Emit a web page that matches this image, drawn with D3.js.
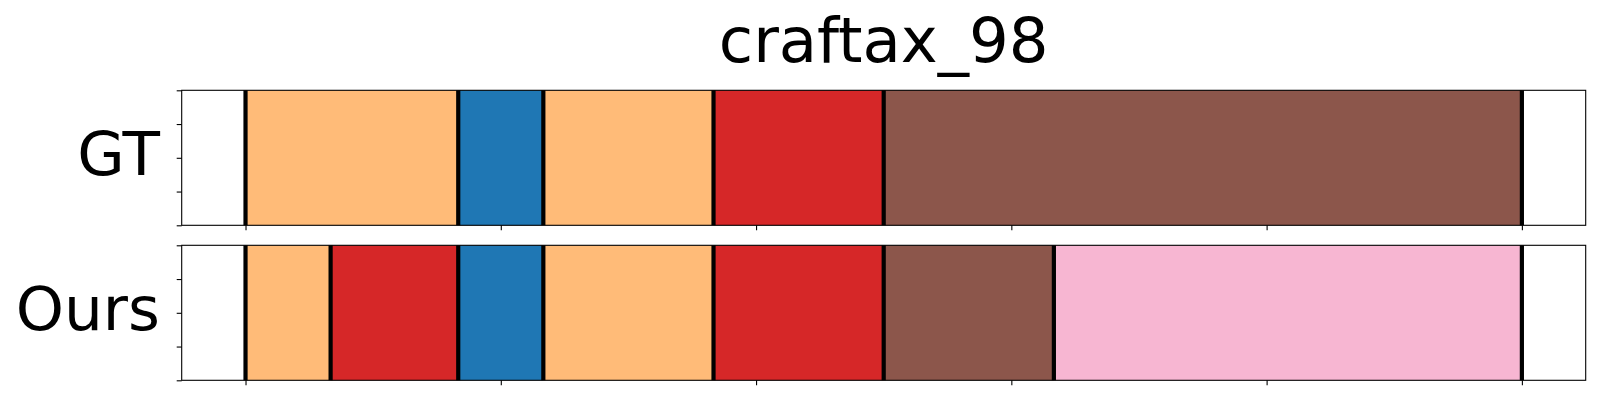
<!DOCTYPE html>
<html>
<head>
<meta charset="utf-8">
<script src="https://cdn.jsdelivr.net/npm/d3@7"></script>
<style>
  html, body { margin: 0; padding: 0; background: #fff; }
  svg { display: block; }
</style>
</head>
<body>
<svg id="chart" width="1600" height="400"></svg>
<script>
const title = "craftax_98";
const rowLabels = ["GT", "Ours"];
const totalFrames = 30;
const xTickValues = [0, 6, 12, 18, 24, 30];
const yTickValues = [0, 0.25, 0.5, 0.75, 1];
const gtSegments = [
  { start: 0, end: 5, action: "orange" },
  { start: 5, end: 7, action: "blue" },
  { start: 7, end: 11, action: "orange" },
  { start: 11, end: 15, action: "red" },
  { start: 15, end: 30, action: "brown" }
];
const oursSegments = [
  { start: 0, end: 2, action: "orange" },
  { start: 2, end: 5, action: "red" },
  { start: 5, end: 7, action: "blue" },
  { start: 7, end: 11, action: "orange" },
  { start: 11, end: 15, action: "red" },
  { start: 15, end: 19, action: "brown" },
  { start: 19, end: 30, action: "pink" }
];
const actionColors = { orange: "#ffbb78", blue: "#1f77b4", red: "#d62728", brown: "#8c564b", pink: "#f7b6d2" };

const svg = d3.select("#chart");
const left = 181.7, right = 1585.7;
const panels = [
  { label: rowLabels[0], segs: gtSegments, top: 90.3, bottom: 225.3 },
  { label: rowLabels[1], segs: oursSegments, top: 245.3, bottom: 380.3 }
];
const pad = totalFrames * 0.05;
const x = d3.scaleLinear().domain([-pad, totalFrames + pad]).range([left, right]);
const font = "'DejaVu Sans', sans-serif";

svg.append("text")
  .attr("x", (left + right) / 2)
  .attr("y", 61.5)
  .attr("text-anchor", "middle")
  .attr("font-family", font)
  .attr("font-size", 62.5)
  .attr("fill", "#000")
  .text(title);

panels.forEach(p => {
  const y = d3.scaleLinear().domain([0, 1]).range([p.bottom, p.top]);
  const g = svg.append("g");
  g.selectAll("rect.seg").data(p.segs).enter().append("rect")
    .attr("class", "seg")
    .attr("x", d => x(d.start))
    .attr("width", d => x(d.end) - x(d.start))
    .attr("y", y(1))
    .attr("height", y(0) - y(1))
    .attr("fill", d => actionColors[d.action]);
  const bounds = Array.from(new Set(p.segs.flatMap(d => [d.start, d.end])));
  g.selectAll("line.bd").data(bounds).enter().append("line")
    .attr("class", "bd")
    .attr("x1", d => x(d)).attr("x2", d => x(d))
    .attr("y1", y(1)).attr("y2", y(0))
    .attr("stroke", "#000").attr("stroke-width", 4.2);
  // frame
  g.append("rect")
    .attr("x", left).attr("y", p.top)
    .attr("width", right - left).attr("height", p.bottom - p.top)
    .attr("fill", "none").attr("stroke", "#000").attr("stroke-width", 1.1);
  const ax = d3.axisBottom(x).tickValues(xTickValues).tickFormat("").tickSize(5);
  const gx = g.append("g").attr("transform", `translate(0,${p.bottom})`).call(ax);
  gx.select(".domain").remove();
  gx.selectAll("line").attr("stroke-width", 1.1);
  const ay = d3.axisLeft(y).tickValues(yTickValues).tickFormat("").tickSize(5);
  const gy = g.append("g").attr("transform", `translate(${left},0)`).call(ay);
  gy.select(".domain").remove();
  gy.selectAll("line").attr("stroke-width", 1.1);
  svg.append("text")
    .attr("x", 160)
    .attr("y", (p.top + p.bottom) / 2 + 16.8)
    .attr("text-anchor", "end")
    .attr("font-family", font)
    .attr("font-size", 61.3)
    .attr("fill", "#000")
    .text(p.label);
});
</script>
</body>
</html>
